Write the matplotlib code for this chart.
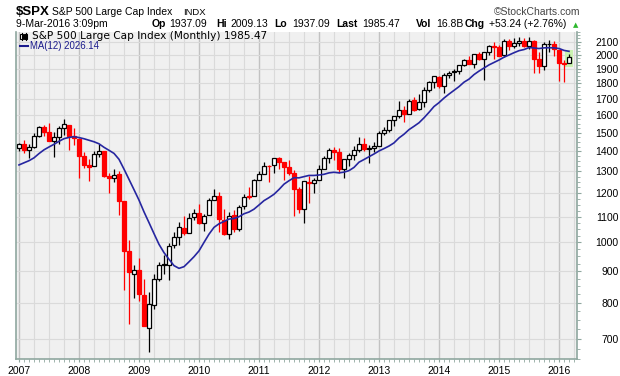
import numpy as np
import pandas as pd
import matplotlib
matplotlib.use("Agg")
import matplotlib.pyplot as plt
from matplotlib.patches import Rectangle
from matplotlib.lines import Line2D

# Monthly S&P 500 bars, Jan 2007 .. Mar 2016 (Mar 2016 partial)
opens = [1418.03, 1437.90, 1406.80, 1420.83, 1482.37, 1530.62, 1504.66, 1455.18, 1473.96, 1527.29, 1545.79, 1479.63,
         1467.97, 1378.60, 1330.45, 1326.41, 1385.97, 1399.62, 1276.69, 1269.42, 1287.83, 1164.17, 968.67, 888.61,
         902.99, 823.09, 729.57, 793.59, 872.74, 923.26, 920.82, 990.22, 1019.52, 1054.91, 1036.18, 1098.89,
         1116.56, 1073.89, 1105.36, 1171.23, 1188.58, 1087.30, 1031.10, 1107.53, 1049.72, 1143.49, 1185.71, 1186.60,
         1257.62, 1289.14, 1328.64, 1329.48, 1365.21, 1345.20, 1320.64, 1292.59, 1219.12, 1131.21, 1251.00, 1246.91,
         1258.86, 1312.45, 1365.90, 1408.47, 1397.86, 1309.87, 1362.33, 1379.32, 1406.54, 1440.90, 1412.20, 1416.18,
         1426.19, 1498.11, 1514.68, 1569.18, 1597.55, 1631.71, 1609.78, 1689.42, 1635.95, 1681.34, 1758.70, 1806.55,
         1845.86, 1782.68, 1857.68, 1873.96, 1884.39, 1923.87, 1962.29, 1929.80, 2004.07, 1971.44, 2018.21, 2065.78,
         2058.90, 1996.67, 2105.23, 2067.63, 2087.38, 2108.64, 2067.00, 2104.49, 1970.09, 1919.65, 2080.76, 2082.93,
         2038.20, 1936.94, 1937.09]
highs = [1441.61, 1461.57, 1438.89, 1498.02, 1535.56, 1540.56, 1555.90, 1503.89, 1538.74, 1576.09, 1545.79, 1523.57,
         1471.77, 1396.02, 1359.68, 1404.17, 1440.24, 1404.05, 1292.17, 1313.15, 1303.04, 1167.03, 1007.51, 918.85,
         943.85, 875.01, 832.98, 888.70, 930.17, 956.23, 996.68, 1039.47, 1080.15, 1101.36, 1113.69, 1130.38,
         1150.45, 1112.42, 1180.16, 1219.80, 1205.13, 1131.23, 1120.95, 1129.24, 1148.90, 1196.14, 1227.08, 1262.60,
         1302.67, 1344.07, 1332.28, 1364.56, 1370.58, 1345.20, 1356.48, 1307.38, 1229.29, 1256.55, 1277.55, 1269.37,
         1333.47, 1378.04, 1419.15, 1422.38, 1415.32, 1363.46, 1391.74, 1426.68, 1474.51, 1470.96, 1434.27, 1448.00,
         1509.94, 1530.94, 1570.28, 1597.57, 1687.18, 1654.19, 1698.78, 1709.67, 1729.86, 1775.22, 1813.55, 1849.44,
         1850.84, 1867.92, 1883.97, 1897.28, 1924.03, 1968.17, 1991.39, 2005.04, 2019.26, 2018.19, 2075.76, 2093.55,
         2072.36, 2119.59, 2117.52, 2125.92, 2134.72, 2129.87, 2132.82, 2112.66, 2020.86, 2094.32, 2116.48, 2104.27,
         2038.20, 1962.96, 2009.13]
lows = [1403.97, 1389.42, 1363.98, 1416.37, 1476.70, 1484.18, 1454.25, 1370.60, 1439.29, 1489.56, 1406.10, 1435.65,
        1270.05, 1316.75, 1256.98, 1324.35, 1373.07, 1272.00, 1200.44, 1248.64, 1106.42, 839.80, 741.02, 815.69,
        804.30, 734.52, 666.79, 783.32, 866.10, 888.86, 869.32, 978.51, 991.97, 1029.38, 1036.18, 1085.89,
        1071.59, 1044.50, 1105.36, 1170.69, 1040.78, 1028.33, 1010.91, 1039.70, 1041.16, 1131.87, 1173.00, 1186.60,
        1257.62, 1289.14, 1249.05, 1294.70, 1311.80, 1258.07, 1282.86, 1101.54, 1114.22, 1074.77, 1158.66, 1202.37,
        1258.86, 1312.45, 1340.03, 1357.38, 1291.98, 1266.74, 1325.41, 1354.65, 1396.56, 1403.28, 1343.35, 1398.11,
        1426.19, 1485.01, 1501.48, 1536.03, 1581.28, 1560.33, 1604.57, 1627.47, 1633.41, 1646.47, 1746.20, 1767.99,
        1770.45, 1737.92, 1834.44, 1814.36, 1859.79, 1915.98, 1930.67, 1904.78, 1964.04, 1820.66, 2001.01, 1972.56,
        1988.12, 1980.90, 2039.69, 2048.38, 2067.93, 2056.32, 2044.02, 1867.01, 1871.91, 1893.70, 2019.39, 1993.26,
        1812.29, 1810.10, 1937.09]
closes = [1438.24, 1406.82, 1420.86, 1482.37, 1530.62, 1503.35, 1455.27, 1473.99, 1526.75, 1549.38, 1481.14, 1468.36,
          1378.55, 1330.63, 1322.70, 1385.59, 1400.38, 1280.00, 1267.38, 1282.83, 1166.36, 968.75, 896.24, 903.25,
          825.88, 735.09, 797.87, 872.81, 919.14, 919.32, 987.48, 1020.62, 1057.08, 1036.19, 1095.63, 1115.10,
          1073.87, 1104.49, 1169.43, 1186.69, 1089.41, 1030.71, 1101.60, 1049.33, 1141.20, 1183.26, 1180.55, 1257.64,
          1286.12, 1327.22, 1325.83, 1363.61, 1345.20, 1320.64, 1292.28, 1218.89, 1131.42, 1253.30, 1246.96, 1257.60,
          1312.41, 1365.68, 1408.47, 1397.91, 1310.33, 1362.16, 1379.32, 1406.58, 1440.67, 1412.16, 1416.18, 1426.19,
          1498.11, 1514.68, 1569.19, 1597.57, 1630.74, 1606.28, 1685.73, 1632.97, 1681.55, 1756.54, 1805.81, 1848.36,
          1782.59, 1859.45, 1872.34, 1883.95, 1923.57, 1960.23, 1930.67, 2003.37, 1972.29, 2018.05, 2067.56, 2058.90,
          1994.99, 2104.50, 2067.89, 2085.51, 2107.39, 2063.11, 2103.84, 1972.18, 1920.03, 2079.36, 2080.41, 2043.94,
          1940.24, 1932.23, 1985.47]
# closes Feb..Dec 2006, only needed to start the 12-month average
prior_closes = [1280.66, 1294.83, 1310.61, 1270.09, 1270.20, 1276.66, 1303.82, 1335.85, 1377.94, 1400.63, 1418.30]

years = list(range(2007, 2017))
price_ticks = [700, 800, 900, 1000, 1100, 1200, 1300, 1400, 1500, 1600, 1700, 1800, 1900, 2000, 2100]

o = np.array(opens); h = np.array(highs); l = np.array(lows); c = np.array(closes)
n = len(c)
x = np.arange(n)
all_closes = pd.Series(prior_closes + closes)
ma12 = all_closes.rolling(12).mean().to_numpy()[len(prior_closes):]
prev_close = np.concatenate([[prior_closes[-1]], c[:-1]])

plt.rcParams['font.family'] = ['Liberation Sans', 'DejaVu Sans']
spine_col = '#8fa79f'

fig = plt.figure(figsize=(6.2, 3.76), dpi=100)
ax = fig.add_axes([16/620, 17/376, 561/620, 327/376])
ax.set_facecolor('#f0f0f0')
ax.set_yscale('log')
ax.set_xlim(-0.6, 111.6)
ax.set_ylim(650, 2176)

# grid
for q in range(0, 112, 3):
    ax.axvline(q, color='#c2c2c2' if q % 12 == 0 else '#dadada', lw=1.0 if q % 12 == 0 else 0.8, zorder=0)
for p in price_ticks:
    ax.axhline(p, color='#dadada', lw=0.8, zorder=0)

# last bar highlight
ax.add_patch(Rectangle((n - 1 - 0.8, l[-1] * 0.988), 1.6, h[-1] * 1.012 - l[-1] * 0.988,
                       facecolor='#c9f2b0', edgecolor='none', zorder=1))

# candles
cols = np.where(c < prev_close, '#ff0000', '#000000')
filled = c < o
ax.vlines(x, l, h, colors=cols, lw=0.9, zorder=2)
bottoms = np.minimum(o, c)
heights = np.maximum(np.abs(c - o), bottoms * 0.002)
faces = [col if f else 'white' for col, f in zip(cols, filled)]
ax.bar(x, heights, bottom=bottoms, width=0.62, color=faces, edgecolor=cols, linewidth=0.9, zorder=3)

# moving average
ax.plot(x, ma12, color='#2626a0', lw=1.2, zorder=4)

# axes styling
for s in ax.spines.values():
    s.set_color(spine_col)
    s.set_linewidth(1.2)
ax.spines['top'].set_visible(False)

ax.set_xticks([12 * i for i in range(len(years))])
ax.set_xticklabels([str(y) for y in years], fontsize=7.5)
ax.set_xticks(np.arange(0, 112), minor=True)
ax.tick_params(axis='x', which='both', length=2, color=spine_col, pad=3)

ax.yaxis.tick_right()
ax.set_yticks(price_ticks)
ax.set_yticklabels([str(p) for p in price_ticks], fontsize=7.5)
ax.yaxis.set_minor_locator(matplotlib.ticker.FixedLocator(np.arange(650, 2200, 25)))
ax.yaxis.set_minor_formatter(matplotlib.ticker.NullFormatter())
ax.tick_params(axis='y', which='major', length=3, color=spine_col, pad=27)
ax.tick_params(axis='y', which='minor', length=2, color=spine_col)
for t in ax.get_yticklabels():
    t.set_horizontalalignment('right')

# header
W, H = 620, 376
def ft(px, py, s, **kw):
    fig.text(px / W, 1 - py / H, s, va='baseline', **kw)

ft(16, 15, '$SPX', fontsize=9.5, fontweight='bold')
ft(52, 15, 'S&P 500 Large Cap Index', fontsize=7.5)
ft(183, 15, 'INDX', fontsize=6.8)
ft(580, 15, '\u00a9StockCharts.com', fontsize=7.5, ha='right', color='#444444')
ft(16, 27, '9-Mar-2016 3:09pm', fontsize=7.5)
parts = [(152, 'Op', True), (169, '1937.09', False), (216, 'Hi', True), (230, '2009.13', False),
         (274, 'Lo', True), (292, '1937.09', False), (336, 'Last', True), (362, '1985.47', False),
         (416, 'Vol', True), (436, '16.8B', False), (465, 'Chg', True), (489, '+53.24 (+2.76%)', False)]
for px, s, b in parts:
    ft(px, 27, s, fontsize=7.5, fontweight='bold' if b else 'normal')
ft(573, 27, '\u25b2', fontsize=5, color='#2db82d', family='DejaVu Sans')

# legend inside plot
ft(32, 39, 'S&P 500 Large Cap Index (Monthly) 1985.47', fontsize=7.6, family='DejaVu Sans')
ft(30, 49, 'MA(12) 2026.14', fontsize=6.9, color='#1a1a8c')
fig.add_artist(Line2D([20 / W, 28 / W], [1 - 46 / H, 1 - 46 / H], color='#1a1a8c', lw=1.5))
for cx, fill in [(21.5, 'white'), (26, 'black')]:
    fig.add_artist(Line2D([cx / W, cx / W], [1 - 39.5 / H, 1 - 32.5 / H], color='black', lw=0.8))
    fig.add_artist(Rectangle(((cx - 1.5) / W, 1 - 38.5 / H), 3 / W, 4.5 / H, facecolor=fill,
                             edgecolor='black', lw=0.8))

fig.savefig('out.png', dpi=100)
